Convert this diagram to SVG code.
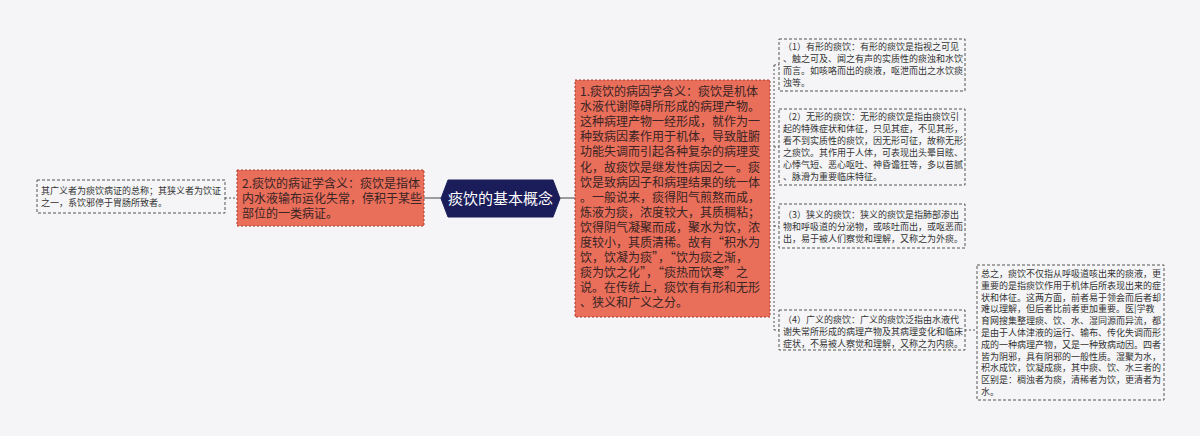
<svg xmlns="http://www.w3.org/2000/svg" width="1200" height="436" viewBox="0 0 1200 436">
<style>
.bg{fill:#f5f5f7}
.main{fill:#e96f5b;stroke:#a8392c;stroke-width:1;stroke-dasharray:2,2}
.sub{fill:#f5f5f7;stroke:#555;stroke-width:1;stroke-dasharray:3,2}
.t12{font-family:"Noto Sans CJK SC","Liberation Sans",sans-serif;font-size:12px;fill:#3a2424}
.t9{font-family:"Noto Sans CJK SC","Liberation Sans",sans-serif;font-size:9px;fill:#333}
.title{font-family:"Noto Sans CJK SC","Liberation Sans",sans-serif;font-size:15px;fill:#fff}
.c{fill:none;stroke:#444;stroke-width:1}
.cd{fill:none;stroke:#555;stroke-width:1;stroke-dasharray:2,2}
</style>
<rect class="bg" x="0" y="0" width="1200" height="436"/>
<g id="connectors">
<path class="c" d="M424,198 H441"/>
<path class="c" d="M560,198 H575"/>
<path class="cd" d="M225,198 H237"/>
<path class="cd" d="M770,198 H774"/>
<path class="cd" d="M774,65 V330"/>
<path class="cd" d="M774,65 H779"/>
<path class="cd" d="M774,147 H779"/>
<path class="cd" d="M774,226 H779"/>
<path class="cd" d="M774,330 H779"/>
<path class="cd" d="M965,330 H977"/>
</g>
<g id="center">
<polygon points="441,198.5 448,180 553,180 560,198.5 553,217 448,217" fill="#1b1d5a" stroke="#1b1d5a"/>
<text class="title" x="500.5" y="204" text-anchor="middle">痰饮的基本概念</text>
</g>
<g id="node2">
<rect class="main" x="237" y="170" width="187" height="56"/>
<text class="t12"><tspan x="242" y="188">2.痰饮的病证学含义：痰饮是指体</tspan><tspan x="242" y="203">内水液输布运化失常，停积于某些</tspan><tspan x="242" y="218">部位的一类病证。</tspan></text>
</g>
<g id="leftbox">
<rect class="sub" x="37" y="180" width="188" height="33"/>
<text class="t9"><tspan x="41" y="194">其广义者为痰饮病证的总称；其狭义者为饮证</tspan><tspan x="41" y="206">之一，系饮邪停于胃肠所致者。</tspan></text>
</g>
<g id="node1">
<rect class="main" x="575" y="80" width="195" height="237"/>
<text class="t12"><tspan x="580" y="96">1.痰饮的病因学含义：痰饮是机体</tspan><tspan x="580" y="111.1">水液代谢障碍所形成的病理产物。</tspan><tspan x="580" y="126.2">这种病理产物一经形成，就作为一</tspan><tspan x="580" y="141.3">种致病因素作用于机体，导致脏腑</tspan><tspan x="580" y="156.4">功能失调而引起各种复杂的病理变</tspan><tspan x="580" y="171.5">化，故痰饮是继发性病因之一。痰</tspan><tspan x="580" y="186.6">饮是致病因子和病理结果的统一体</tspan><tspan x="580" y="201.7">。一般说来，痰得阳气煎熬而成，</tspan><tspan x="580" y="216.8">炼液为痰，浓度较大，其质稠粘；</tspan><tspan x="580" y="231.9">饮得阴气凝聚而成，聚水为饮，浓</tspan><tspan x="580" y="247">度较小，其质清稀。故有“积水为</tspan><tspan x="580" y="262.1">饮，饮凝为痰”，“饮为痰之渐，</tspan><tspan x="580" y="277.2">痰为饮之化”，“痰热而饮寒”之</tspan><tspan x="580" y="292.3">说。在传统上，痰饮有有形和无形</tspan><tspan x="580" y="307.4">、狭义和广义之分。</tspan></text>
</g>
<g id="r1">
<rect class="sub" x="779" y="39" width="186" height="52"/>
<text class="t9"><tspan x="783" y="50">（1）有形的痰饮：有形的痰饮是指视之可见</tspan><tspan x="783" y="62">、触之可及、闻之有声的实质性的痰浊和水饮</tspan><tspan x="783" y="74">而言。如咳咯而出的痰液，呕泄而出之水饮痰</tspan><tspan x="783" y="86">浊等。</tspan></text>
</g>
<g id="r2">
<rect class="sub" x="779" y="109" width="186" height="76"/>
<text class="t9"><tspan x="783" y="120">（2）无形的痰饮：无形的痰饮是指由痰饮引</tspan><tspan x="783" y="132">起的特殊症状和体征，只见其症，不见其形，</tspan><tspan x="783" y="144">看不到实质性的痰饮，因无形可征，故称无形</tspan><tspan x="783" y="156">之痰饮。其作用于人体，可表现出头晕目眩、</tspan><tspan x="783" y="168">心悸气短、恶心呕吐、神昏谵狂等，多以苔腻</tspan><tspan x="783" y="180">、脉滑为重要临床特征。</tspan></text>
</g>
<g id="r3">
<rect class="sub" x="779" y="204" width="186" height="44"/>
<text class="t9"><tspan x="783" y="218">（3）狭义的痰饮：狭义的痰饮是指肺部渗出</tspan><tspan x="783" y="230">物和呼吸道的分泌物，或咳吐而出，或呕恶而</tspan><tspan x="783" y="242">出，易于被人们察觉和理解，又称之为外痰。</tspan></text>
</g>
<g id="r4">
<rect class="sub" x="779" y="310" width="186" height="40"/>
<text class="t9"><tspan x="783" y="323">（4）广义的痰饮：广义的痰饮泛指由水液代</tspan><tspan x="783" y="335">谢失常所形成的病理产物及其病理变化和临床</tspan><tspan x="783" y="347">症状，不易被人察觉和理解，又称之为内痰。</tspan></text>
</g>
<g id="r5">
<rect class="sub" x="977" y="265" width="187" height="135"/>
<text class="t9"><tspan x="981" y="277">总之，痰饮不仅指从呼吸道咳出来的痰液，更</tspan><tspan x="981" y="288.8">重要的是指痰饮作用于机体后所表现出来的症</tspan><tspan x="981" y="300.6">状和体征。这两方面，前者易于领会而后者却</tspan><tspan x="981" y="312.4">难以理解，但后者比前者更加重要。医|学教</tspan><tspan x="981" y="324.2">育网搜集整理痰、饮、水、湿同源而异流，都</tspan><tspan x="981" y="336">是由于人体津液的运行、输布、传化失调而形</tspan><tspan x="981" y="347.8">成的一种病理产物，又是一种致病动因。四者</tspan><tspan x="981" y="359.6">皆为阴邪，具有阴邪的一般性质。湿聚为水，</tspan><tspan x="981" y="371.4">积水成饮，饮凝成痰，其中痰、饮、水三者的</tspan><tspan x="981" y="383.2">区别是：稠浊者为痰，清稀者为饮，更清者为</tspan><tspan x="981" y="395">水。</tspan></text>
</g>
</svg>
